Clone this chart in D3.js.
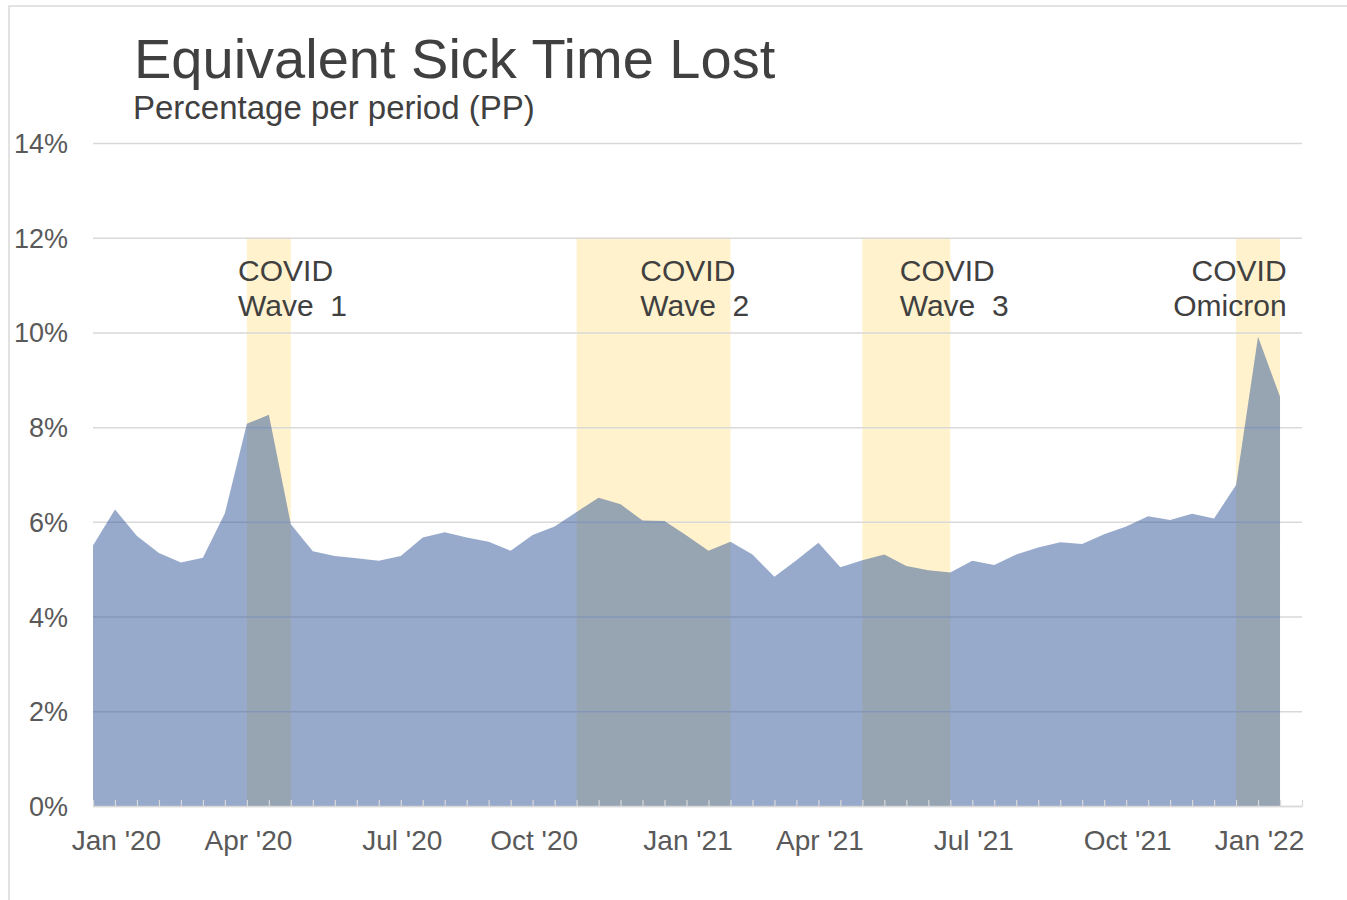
<!DOCTYPE html>
<html>
<head>
<meta charset="utf-8">
<script src="https://cdn.jsdelivr.net/npm/d3@7"></script>
<style>
  html, body { margin: 0; padding: 0; background: #ffffff; }
  svg { display: block; font-family: "Liberation Sans", Arial, sans-serif; }
</style>
</head>
<body>
<script>
// Sick time lost per pay period (%), one value per biweekly period
const sickPct = [
  5.50, 6.26, 5.70, 5.34, 5.14, 5.24, 6.18, 8.07, 8.26, 5.95,
  5.38, 5.28, 5.23, 5.18, 5.28, 5.67, 5.78, 5.67, 5.58, 5.39,
  5.72, 5.90, 6.21, 6.51, 6.37, 6.03, 6.02, 5.71, 5.39, 5.58,
  5.31, 4.84, 5.19, 5.56, 5.04, 5.19, 5.31, 5.07, 4.98, 4.93,
  5.18, 5.09, 5.31, 5.46, 5.57, 5.53, 5.74, 5.90, 6.12, 6.04,
  6.17, 6.07, 6.78, 9.91, 8.64
];

// x axis labels and the period they sit under
const monthLabels = ["Jan '20", "Apr '20", "Jul '20", "Oct '20", "Jan '21", "Apr '21", "Jul '21", "Oct '21", "Jan '22"];
const monthPeriods = [1, 7, 14, 20, 27, 33, 40, 47, 53];

const yTicks = [0, 2, 4, 6, 8, 10, 12, 14];

// COVID waves: first and last period shaded
const waveNames = [["COVID", "Wave  1"], ["COVID", "Wave  2"], ["COVID", "Wave  3"], ["COVID", "Omicron"]];
const waveStart = [7, 22, 35, 52];
const waveEnd = [9, 29, 39, 54];
const waveLabelAt = [6.6, 24.9, 36.7, 54.3];

document.addEventListener('DOMContentLoaded', function() {
    const W = 1347, H = 900;
    const left = 93, right = 1302, top = 143, bottom = 806;

    const svg = d3.select('body').append('svg')
        .attr('width', W)
        .attr('height', H);

    // chart border (only top and left are on screen)
    svg.append('rect')
        .attr('x', 9).attr('y', 6)
        .attr('width', 1500).attr('height', 1200)
        .attr('fill', 'none')
        .attr('stroke', '#d9d9d9')
        .attr('stroke-width', 1.5);

    // one extra slot at the right end, like the source axis
    const x = d3.scaleLinear()
        .domain([0, sickPct.length])
        .range([left, right]);
    const y = d3.scaleLinear()
        .domain([0, 14])
        .range([bottom, top]);

    // title
    svg.append('text')
        .attr('x', 134).attr('y', 78)
        .attr('font-size', 56)
        .attr('fill', '#404040')
        .text('Equivalent Sick Time Lost');
    svg.append('text')
        .attr('x', 133).attr('y', 119)
        .attr('font-size', 33)
        .attr('fill', '#404040')
        .text('Percentage per period (PP)');

    // wave bands
    svg.append('g').selectAll('rect')
        .data(waveStart)
        .join('rect')
        .attr('x', (d, i) => x(d))
        .attr('width', (d, i) => x(waveEnd[i]) - x(d))
        .attr('y', y(12))
        .attr('height', y(0) - y(12))
        .attr('fill', '#fff2cc');

    // gridlines
    const grid = svg.append('g')
        .attr('transform', `translate(${left},0)`)
        .call(d3.axisLeft(y).tickValues(yTicks).tickSize(-(right - left)).tickFormat(''));
    grid.select('.domain').remove();
    grid.selectAll('line').attr('stroke', '#d9d9d9').attr('stroke-width', 1.5);

    // y labels
    const yAxis = svg.append('g')
        .attr('transform', 'translate(68,0)')
        .call(d3.axisLeft(y).tickValues(yTicks).tickSize(0).tickPadding(0).tickFormat(d => d + '%'));
    yAxis.select('.domain').remove();
    yAxis.selectAll('text')
        .attr('font-family', '"Liberation Sans", Arial, sans-serif')
        .attr('font-size', 27)
        .attr('fill', '#595959')
        .attr('dy', '0.35em');

    // area
    const area = d3.area()
        .x((d, i) => x(i))
        .y0(y(0))
        .y1(d => y(d));
    svg.append('path')
        .datum(sickPct)
        .attr('fill', '#2f5597')
        .attr('fill-opacity', 0.5)
        .attr('d', area);

    // x axis line and small inside ticks
    const xAxis = svg.append('g')
        .attr('transform', `translate(0,${bottom})`)
        .call(d3.axisBottom(x).tickValues(d3.range(sickPct.length + 1)).tickSizeInner(-6).tickSizeOuter(0).tickFormat(''));
    xAxis.select('.domain').attr('stroke', '#d9d9d9').attr('stroke-width', 1.5);
    xAxis.selectAll('line').attr('stroke', '#d9d9d9').attr('stroke-width', 1.2);

    // month labels
    const xLabels = svg.append('g')
        .attr('transform', `translate(1,${bottom})`)
        .call(d3.axisBottom(x).tickValues(monthPeriods).tickSize(0).tickPadding(0)
            .tickFormat((d, i) => monthLabels[i]));
    xLabels.select('.domain').remove();
    xLabels.selectAll('text')
        .attr('font-family', '"Liberation Sans", Arial, sans-serif')
        .attr('font-size', 28)
        .attr('fill', '#595959')
        .attr('y', 34)
        .attr('dy', '0.35em');

    // wave annotations
    waveNames.forEach(function(lines, i) {
        const last = i === waveNames.length - 1;
        const t = svg.append('text')
            .attr('x', x(waveLabelAt[i]))
            .attr('y', 281)
            .attr('font-size', 30)
            .attr('fill', '#404040')
            .attr('text-anchor', last ? 'end' : 'start')
            .style('white-space', 'pre');
        lines.forEach(function(line, j) {
            t.append('tspan')
                .attr('x', x(waveLabelAt[i]))
                .attr('dy', j === 0 ? 0 : 35)
                .text(line);
        });
    });
});
</script>
</body>
</html>
